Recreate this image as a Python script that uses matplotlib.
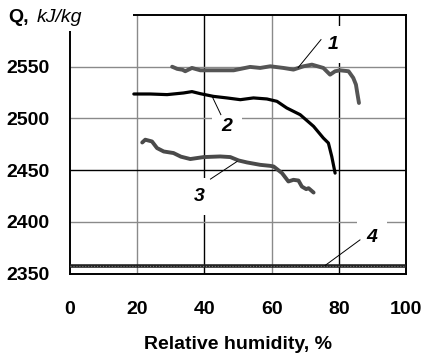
import matplotlib.pyplot as plt
from matplotlib.patches import Rectangle

plt.rcParams["font.family"] = ["Liberation Sans", "DejaVu Sans"]

# curve 1 (gray)
x1 = [30.4, 31.9, 33.5, 34.3, 36.3, 38.8, 43.7, 48.7, 53.6, 56.6, 59.6, 63.5, 66.5,
      69.5, 72.0, 75.4, 77.4, 78.9, 80.4, 82.9, 84.3, 85.1, 85.5, 86.0]
q1 = [2550.0, 2547.9, 2547.0, 2545.6, 2548.8, 2546.5, 2546.5, 2546.5, 2549.8, 2548.8,
      2550.4, 2548.8, 2547.2, 2550.4, 2552.0, 2548.8, 2542.3, 2545.6, 2546.5, 2545.6,
      2539.2, 2532.7, 2524.6, 2514.9]

# curve 2 (black)
x2 = [19.0, 23.9, 28.9, 33.8, 36.3, 38.8, 42.7, 46.7, 50.7, 54.6, 58.6, 61.6, 64.5,
      68.5, 72.5, 75.4, 76.9, 77.9, 78.9]
q2 = [2523.6, 2523.6, 2523.0, 2524.6, 2525.9, 2523.9, 2521.3, 2519.8, 2518.1, 2519.8,
      2518.8, 2516.5, 2510.1, 2503.6, 2492.3, 2481.0, 2476.2, 2463.2, 2447.1]

# curve 3 (gray)
x3 = [21.5, 22.4, 24.4, 25.9, 27.9, 30.8, 33.0, 35.8, 39.8, 44.7, 47.7, 50.2, 52.7,
      56.6, 59.6, 60.6, 63.1, 65.0, 66.5, 68.0, 69.0, 70.3, 71.0, 72.5]
q3 = [2476.7, 2479.4, 2477.7, 2471.3, 2468.0, 2466.5, 2463.0, 2460.7, 2462.6, 2463.2,
      2462.6, 2459.3, 2457.4, 2455.1, 2454.1, 2453.5, 2447.1, 2439.0, 2440.6, 2439.9,
      2434.1, 2431.6, 2432.5, 2428.3]

# curve 4 (constant)
x4 = [0, 100]
q4 = [2357.5, 2357.5]

# curve labels: text, label position, leader start, leader end
labels = ["1", "2", "3", "4"]
label_pos = [(78.3, 2571.4), (46.7, 2492.3), (38.6, 2424.4), (89.8, 2385.1)]
leaders = [((74.7, 2576.2), (67.9, 2549.1)),
           ((44.9, 2503.6), (42.3, 2521.3)),
           ((41.8, 2441.3), (49.7, 2458.3)),
           ((86.3, 2382.5), (75.9, 2357.7))]

x_ticks = [0, 20, 40, 60, 80, 100]
y_ticks = [2350, 2400, 2450, 2500, 2550]

fig = plt.figure(figsize=(4.25, 3.59), dpi=100)
ax = fig.add_axes([70 / 425, 1 - 273.5 / 359, 336 / 425, 258.5 / 359])
ax.set_xlim(0, 100)
ax.set_ylim(2350, 2600)

# grid lines, some gray some black as in the scan
xg_col = {20: "#8a8a8a", 40: "black", 60: "#8a8a8a", 80: "black"}
yg_col = {2400: "#8a8a8a", 2450: "black", 2500: "#8a8a8a", 2550: "#8a8a8a"}
for xv, c in xg_col.items():
    ax.axvline(xv, color=c, lw=1.0, zorder=1)
for yv, c in yg_col.items():
    ax.axhline(yv, color=c, lw=1.0, zorder=1)

ax.plot(x1, q1, color="#555555", lw=2.8, zorder=3, solid_capstyle="round")
ax.plot(x2, q2, color="black", lw=2.3, zorder=3, solid_capstyle="round")
ax.plot(x3, q3, color="#4a4a4a", lw=2.8, zorder=3, solid_capstyle="round")
ax.plot(x4, q4, color="#222222", lw=2.6, zorder=3)
ax.plot(x4, q4, color="#777777", lw=0.8, ls=":", zorder=3)

for lab, (lx, ly), (p0, p1) in zip(labels, label_pos, leaders):
    ax.text(lx, ly, lab, fontsize=14, fontweight="bold", fontstyle="italic",
            ha="center", va="center", zorder=4,
            bbox=dict(facecolor="white", edgecolor="none", pad=7))
    ax.plot([p0[0], p1[0]], [p0[1], p1[1]], color="black", lw=0.7, zorder=5)

ax.set_xticks(x_ticks)
ax.set_yticks(y_ticks)
ax.tick_params(length=0, labelsize=14)
ax.tick_params(axis="x", pad=20)
ax.tick_params(axis="y", pad=15)
for t in ax.get_xticklabels() + ax.get_yticklabels():
    t.set_fontweight("bold")
for s in ax.spines.values():
    s.set_linewidth(1.4)

ax.set_xlabel("Relative humidity, %", fontsize=14, fontweight="bold", labelpad=13)

# white patch hiding the top-left corner of the frame behind the axis title
fig.patches.append(Rectangle((0, 1 - 31 / 359), 133 / 425, 31 / 359,
                             transform=fig.transFigure, facecolor="white",
                             edgecolor="none", zorder=5))
fig.text(8 / 425, 1 - 22 / 359, "Q,", fontsize=14, fontweight="bold",
         ha="left", va="baseline", zorder=6)
fig.text(37 / 425, 1 - 22 / 359, "kJ/kg", fontsize=14, fontstyle="italic",
         ha="left", va="baseline", zorder=6)

fig.savefig("out.png", dpi=100)
